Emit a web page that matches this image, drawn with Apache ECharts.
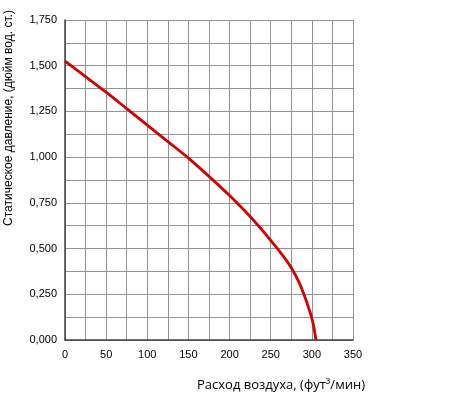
<!DOCTYPE html>
<html><head><meta charset="utf-8">
<script src="https://cdn.jsdelivr.net/npm/echarts@6/dist/echarts.min.js"></script>
<style>html,body{margin:0;padding:0;background:#fff}#c{width:450px;height:394px}</style>
</head><body><div id="c"></div>
<script>
const flow = [0, 25, 50, 75, 100, 125, 150, 175, 200, 225, 250, 265, 275, 285, 292, 298, 302, 305];
const pressure = [1.525, 1.44, 1.355, 1.265, 1.175, 1.085, 0.995, 0.895, 0.79, 0.675, 0.545, 0.46, 0.395, 0.31, 0.23, 0.15, 0.08, 0.0];
const xTitle = 'Расход воздуха, (фут³/мин)';
const yTitle = 'Статическое давление, (дюйм вод. ст.)';

const chart = echarts.init(document.getElementById('c'), null, {renderer: 'canvas'});
const gridLine = {show: true, lineStyle: {color: '#939393', width: 1}};
chart.setOption({
  animation: false,
  grid: {left: 65, right: 97, top: 20, bottom: 54, containLabel: false, outerBoundsMode: 'none'},
  graphic: [
    {type: 'text', x: 281, y: 385, style: {text: xTitle, fill: '#000', font: '13px "Open Sans"', textAlign: 'center', textVerticalAlign: 'middle'}},
    {type: 'text', x: 9, y: 118, rotation: Math.PI / 2, style: {text: yTitle, fill: '#000', font: '12px "Liberation Sans"', textAlign: 'center', textVerticalAlign: 'middle'}}
  ],
  xAxis: {
    type: 'value', min: 0, max: 350, interval: 50,
    axisLine: {show: true, lineStyle: {color: '#404040', width: 1.5}},
    axisTick: {show: false},
    axisLabel: {color: '#000', fontFamily: 'Liberation Sans', fontSize: 11, margin: 9},
    splitLine: gridLine,
    minorTick: {show: false, splitNumber: 2},
    minorSplitLine: gridLine
  },
  yAxis: {
    type: 'value', min: 0, max: 1.75, interval: 0.25,
    axisLine: {show: true, lineStyle: {color: '#404040', width: 1.5}},
    axisTick: {show: false},
    axisLabel: {color: '#000', fontFamily: 'Liberation Sans', fontSize: 11, margin: 8,
      formatter: v => v.toFixed(3).replace('.', ',')},
    splitLine: gridLine,
    minorTick: {show: false, splitNumber: 2},
    minorSplitLine: gridLine
  },
  series: [{
    type: 'line', smooth: 0.3, showSymbol: false,
    data: flow.map((x, i) => [x, pressure[i]]),
    lineStyle: {color: '#d20000', width: 2.8}
  }]
});
</script></body></html>
